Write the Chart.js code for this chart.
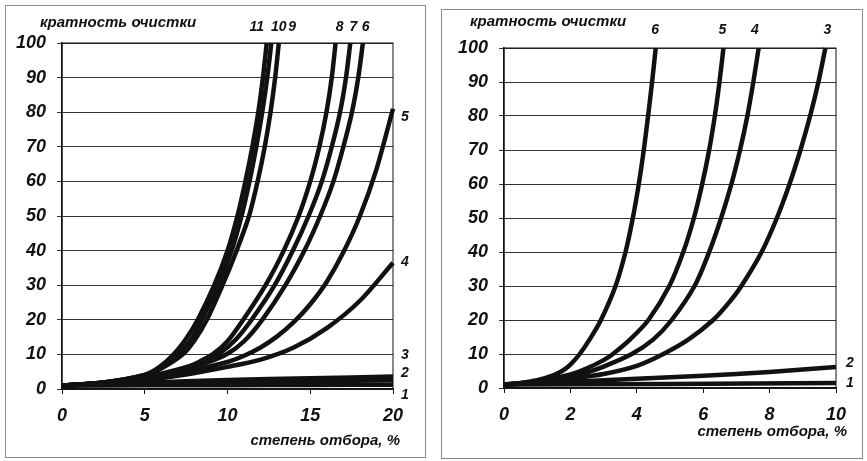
<!DOCTYPE html>
<html>
<head>
<meta charset="utf-8">
<script src="https://cdn.jsdelivr.net/npm/chart.js@4.4.0/dist/chart.umd.min.js"></script>
<style>
  body { margin: 0; background: #fff; width: 867px; height: 461px; position: relative; overflow: hidden; }
  canvas { position: absolute; top: 0; }
  .frame { position: absolute; border: 1px solid #8a8a8a; }
</style>
</head>
<body>
<div class="frame" style="left:5px;top:5px;width:419px;height:451px"></div>
<div class="frame" style="left:441px;top:9px;width:420px;height:448px"></div>
<canvas id="left" width="430" height="461" style="left:0"></canvas>
<canvas id="right" width="437" height="461" style="left:430px"></canvas>
<script>
// left panel: степень отбора 0..20 %, curves 1..11
const leftXTicks = [0, 5, 10, 15, 20];
const leftYTicks = [0, 10, 20, 30, 40, 50, 60, 70, 80, 90, 100];
const L1 = [[0,1],[5,1.05],[10,1.1],[15,1.18],[20,1.25]];
const L2 = [[0,1],[5,1.4],[10,1.8],[15,2.2],[20,2.5]];
const L3 = [[0,1],[5,1.8],[10,2.6],[15,3.1],[20,3.6]];
const L4 = [[0,1],[2.5,1.6],[5,2.6],[7.5,4.2],[10,6.4],[12,8.5],[14,12],[16,17.6],[18,25.5],[20,36.5]];
const L5 = [[0,1],[2.5,1.7],[5,3],[7.5,5],[10,7.8],[11,9.6],[12,12],[13,15.2],[14,19.3],[15,24.5],[16,31],[17,39.5],[18,50],[19,63.5],[20,81]];
const L6 = [[0,1],[2.5,1.8],[5,3.2],[7.5,5.8],[8.75,7.6],[10,10.2],[11,13.8],[12.1,20],[13.5,30],[14.65,40],[15.6,50],[16.4,60],[17,70],[17.52,80],[17.9,90],[18.18,100]];
const L7 = [[0,1],[2.5,1.8],[5,3.3],[7.5,6.1],[8.5,7.8],[9.5,10.2],[10.5,14.3],[11.5,20.3],[12.85,30],[13.95,40],[14.9,50],[15.7,60],[16.3,70],[16.8,80],[17.16,90],[17.42,100]];
const L8 = [[0,1],[2.5,1.8],[5,3.4],[7.5,6.3],[8.3,7.9],[9.1,10],[10,13.8],[10.95,20],[12.3,30],[13.4,40],[14.3,50],[15,60],[15.55,70],[15.98,80],[16.3,90],[16.53,100]];
const L9 = [[0,1],[2.5,1.85],[5,3.9],[6,5.9],[7.3,10],[8,14],[8.75,20],[9.7,30],[10.55,40],[11.3,50],[11.82,60],[12.25,70],[12.6,80],[12.88,90],[13.1,100]];
const L10 = [[0,1],[2.5,1.9],[5,4.1],[6,6.2],[7,10],[7.75,14],[8.45,20],[9.45,30],[10.25,40],[10.85,50],[11.33,60],[11.74,70],[12.1,80],[12.4,90],[12.65,100]];
const L11 = [[0,1],[2.5,1.9],[5,4.1],[5.9,6.4],[6.75,10],[7.5,14.5],[8.2,20],[9.2,30],[10,40],[10.6,50],[11.08,60],[11.5,70],[11.86,80],[12.14,90],[12.37,100]];

// right panel: степень отбора 0..10 %, curves 1..6
const rightXTicks = [0, 2, 4, 6, 8, 10];
const rightYTicks = [0, 10, 20, 30, 40, 50, 60, 70, 80, 90, 100];
const R1 = [[0,1],[5,1.2],[10,1.5]];
const R2 = [[0,1],[2,1.8],[4,2.7],[6,3.6],[8,4.7],[10,6.2]];
const R3 = [[0,1],[1,1.6],[2,2.7],[3,4.1],[4,6.5],[4.8,10],[5.55,14.2],[6.3,20],[6.75,24.8],[7.15,30],[7.76,40],[8.22,50],[8.6,60],[8.93,70],[9.22,80],[9.47,90],[9.68,100]];
const R4 = [[0,1],[1,1.8],[2,3.3],[2.5,4.6],[3,6.3],[3.85,10],[4.5,14.3],[5.05,20],[5.74,30],[6.18,40],[6.54,50],[6.85,60],[7.11,70],[7.33,80],[7.51,90],[7.67,100]];
const R5 = [[0,1],[1,1.9],[2,4],[2.5,5.8],[3,8.2],[3.28,10],[3.8,14.3],[4.35,20],[4.98,30],[5.4,40],[5.72,50],[5.97,60],[6.18,70],[6.35,80],[6.49,90],[6.61,100]];
const R6 = [[0,1],[0.5,1.5],[1,2.3],[1.5,3.8],[1.75,5],[2,6.9],[2.28,10],[2.6,14.6],[2.92,20],[3.36,30],[3.66,40],[3.88,50],[4.06,60],[4.21,70],[4.34,80],[4.46,90],[4.57,100]];

const FONT = '"Liberation Sans", Arial, sans-serif';
const INK = '#111';

// texts that are not ticks: axis captions and curve numbers
const notes = {
  id: 'notes',
  afterDraw(chart, args, o) {
    const { ctx, chartArea: a, scales: { x, y } } = chart;
    ctx.save();
    ctx.strokeStyle = INK;
    ctx.lineWidth = 1;
    ctx.strokeRect(a.left, a.top, a.right - a.left, a.bottom - a.top);
    ctx.fillStyle = INK;
    ctx.textBaseline = 'middle';
    ctx.font = 'italic bold 14px ' + FONT;
    ctx.textAlign = 'center';
    o.top.forEach(([t, v]) => ctx.fillText(t, x.getPixelForValue(v), a.top + o.topDy));
    ctx.textAlign = 'left';
    o.side.forEach(([t, v]) => ctx.fillText(t, a.right + o.sideDx, y.getPixelForValue(v)));
    ctx.font = 'italic bold 15px ' + FONT;
    ctx.fillText(o.yTitle, o.yTitleX, o.yTitleY);
    ctx.textAlign = 'right';
    ctx.fillText(o.xTitle, a.right + o.xTitleDx, o.xTitleY);
    ctx.restore();
  }
};

function makeChart(id, curves, xTicks, yTicks, xMax, box, noteOpts) {
  const ctx = document.getElementById(id).getContext('2d');
  return new Chart(ctx, {
    type: 'scatter',
    data: {
      datasets: curves.map(c => ({
        data: c.map(p => ({ x: p[0], y: p[1] })),
        showLine: true,
        borderColor: INK,
        borderWidth: 4.5,
        pointRadius: 0,
        tension: 0.3,
        clip: 3
      }))
    },
    options: {
      responsive: false,
      animation: false,
      devicePixelRatio: 1,
      layout: { padding: { left: 0, top: box.top, right: box.right, bottom: 0 } },
      plugins: { legend: { display: false }, tooltip: { enabled: false }, notes: noteOpts },
      scales: {
        x: {
          type: 'linear', min: 0, max: xMax,
          afterBuildTicks: s => { s.ticks = xTicks.map(v => ({ value: v })); },
          afterFit: s => { s.height = box.bottom; },
          grid: { drawOnChartArea: false, drawTicks: true, tickLength: 5, color: INK },
          border: { display: true, color: INK, width: 1.5 },
          ticks: { color: INK, padding: 11, font: { family: FONT, size: 18, weight: 'bold', style: 'italic' } }
        },
        y: {
          min: 0, max: 100,
          afterBuildTicks: s => { s.ticks = yTicks.map(v => ({ value: v })); },
          afterFit: s => { s.width = box.left; },
          grid: { color: '#333', lineWidth: 1, tickLength: 5 },
          border: { display: true, color: INK, width: 1.5 },
          ticks: { color: INK, padding: 11, font: { family: FONT, size: 18, weight: 'bold', style: 'italic' } }
        }
      }
    },
    plugins: [notes]
  });
}

makeChart('left', [L1, L2, L3, L4, L5, L6, L7, L8, L9, L10, L11], leftXTicks, leftYTicks, 20,
  { left: 62, top: 43, right: 37, bottom: 72 },
  {
    top: [['11', 11.77], ['10', 13.1], ['9', 13.9], ['8', 16.78], ['7', 17.6], ['6', 18.35]],
    topDy: -16,
    side: [['5', 78.6], ['4', 36.7], ['3', 9.8], ['2', 4.6], ['1', -1.7]],
    sideDx: 8,
    yTitle: 'кратность очистки', yTitleX: 40, yTitleY: 23,
    xTitle: 'степень отбора, %', xTitleDx: 7, xTitleY: 441
  });

makeChart('right', [R1, R2, R3, R4, R5, R6], rightXTicks, rightYTicks, 10,
  { left: 74, top: 48, right: 31, bottom: 73 },
  {
    top: [['6', 4.55], ['5', 6.58], ['4', 7.56], ['3', 9.74]],
    topDy: -18,
    side: [['2', 7.35], ['1', 1.5]],
    sideDx: 10,
    yTitle: 'кратность очистки', yTitleX: 40, yTitleY: 22,
    xTitle: 'степень отбора, %', xTitleDx: 11, xTitleY: 432
  });
</script>
</body>
</html>
